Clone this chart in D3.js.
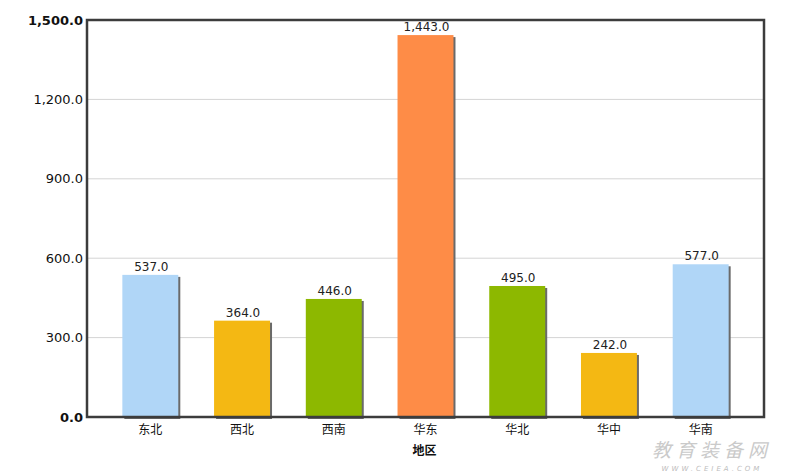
<!DOCTYPE html>
<html><head><meta charset="utf-8">
<script src="https://cdn.jsdelivr.net/npm/d3@7"></script>
<style>body{margin:0;background:#fff;}svg{display:block;}</style>
</head><body>
<svg id="c" width="793" height="474"></svg>
<script>
const categories = ["东北","西北","西南","华东","华北","华中","华南"];
const values = [537, 364, 446, 1443, 495, 242, 577];
const barColors = ["#b0d6f7","#f4b813","#8db800","#fe8c47","#8db800","#f4b813","#b0d6f7"];
const yTicks = [0, 300, 600, 900, 1200, 1500];
const xTitle = "地区";

const svg = d3.select("#c");
const L = 87, R = 764, T = 20, B = 417;
const x = d3.scaleBand().domain(categories).range([L + 17, R - 17]).paddingInner(0.39).paddingOuter(0.2);
const y = d3.scaleLinear().domain([0, 1500]).range([B, T]);
const fmt = d3.format(",.1f");
const font = "'DejaVu Sans', Verdana, sans-serif";

// grid
svg.append("g").selectAll("line").data(yTicks.filter(d => d > 0 && d < 1500)).join("line")
  .attr("x1", L).attr("x2", R).attr("y1", d => y(d)).attr("y2", d => y(d))
  .attr("stroke", "#d4d4d4").attr("stroke-width", 1);

// y axis labels via axis
const yAxis = svg.append("g").attr("transform", `translate(${L},0)`)
  .call(d3.axisLeft(y).tickValues(yTicks).tickFormat(fmt).tickSize(0).tickPadding(4));
yAxis.select(".domain").remove();
yAxis.selectAll("text").attr("font-family", font).attr("font-size", 13).attr("fill", "#111")
  .attr("font-weight", d => (d === 0 || d === 1500) ? "bold" : "normal");

// bars with shadow
const bars = svg.append("g");
bars.selectAll("rect.sh").data(values).join("rect").attr("class", "sh")
  .attr("x", (d, i) => x(categories[i]) + 2).attr("y", d => y(d) + 2)
  .attr("width", x.bandwidth()).attr("height", d => B - y(d))
  .attr("fill", "#6a6a6a");
bars.selectAll("rect.b").data(values).join("rect").attr("class", "b")
  .attr("x", (d, i) => x(categories[i])).attr("y", d => y(d))
  .attr("width", x.bandwidth()).attr("height", d => B - y(d))
  .attr("fill", (d, i) => barColors[i]);

// value labels
svg.append("g").selectAll("text").data(values).join("text")
  .attr("x", (d, i) => x(categories[i]) + x.bandwidth() / 2 + 1)
  .attr("y", d => y(d) - 4)
  .attr("text-anchor", "middle").attr("font-family", font).attr("font-size", 12).attr("fill", "#222")
  .text(d => fmt(d));

// x axis labels
const xAxis = svg.append("g").attr("transform", `translate(0,${B})`)
  .call(d3.axisBottom(x).tickSize(0).tickPadding(8));
xAxis.select(".domain").remove();
xAxis.selectAll("text").attr("font-family", "'Noto Sans CJK SC', sans-serif").attr("font-size", 12).attr("fill", "#111");

// x title
svg.append("text").attr("x", (L + R) / 2 - 1).attr("y", 455).attr("text-anchor", "middle")
  .attr("font-family", "'Noto Sans CJK SC', sans-serif").attr("font-size", 12).attr("font-weight", "bold")
  .attr("fill", "#111").text(xTitle);

// frame
svg.append("rect").attr("x", L).attr("y", T).attr("width", R - L).attr("height", B - T)
  .attr("fill", "none").attr("stroke", "#3c3c3c").attr("stroke-width", 2.5);

// watermark
svg.append("text").attr("x", 712).attr("y", 457).attr("text-anchor", "middle")
  .attr("font-family", "'Noto Sans CJK SC', serif").attr("font-size", 19).attr("font-style", "italic")
  .attr("fill", "#bdbdbd").attr("letter-spacing", 5).attr("opacity", 0.8).text("教育装备网");
svg.append("text").attr("x", 712).attr("y", 471).attr("text-anchor", "middle")
  .attr("font-family", font).attr("font-size", 7).attr("font-style", "italic")
  .attr("fill", "#bdbdbd").attr("letter-spacing", 3).text("WWW.CEIEA.COM");
</script>
</body></html>
